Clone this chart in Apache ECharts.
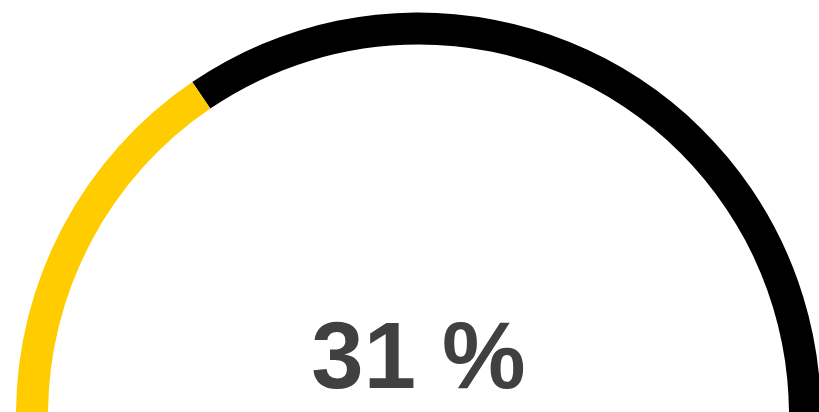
<!DOCTYPE html>
<html><head><meta charset="utf-8">
<script src="https://cdn.jsdelivr.net/npm/echarts@6/dist/echarts.min.js"></script>
<style>html,body{margin:0;padding:0;background:#fff;}#c{width:819px;height:412px;}</style>
</head><body><div id="c"></div>
<script>
var gaugeValue = [31];
var bandStops = [0.31, 1];
var bandColors = ['#FFCC00', '#000000'];
var chart = echarts.init(document.getElementById('c'), null, {renderer: 'canvas'});
chart.setOption({
  animation: false,
  series: [{
    type: 'gauge',
    center: [418.5, 415],
    radius: 402.5,
    startAngle: 180,
    endAngle: 0,
    min: 0,
    max: 100,
    axisLine: {lineStyle: {width: 32, color: bandStops.map(function(s, i){return [s, bandColors[i]];})}},
    pointer: {show: false},
    axisTick: {show: false},
    splitLine: {show: false},
    axisLabel: {show: false},
    title: {show: false},
    detail: {
      formatter: '{value} %',
      fontSize: 94,
      fontWeight: 'bold',
      fontFamily: 'Liberation Sans',
      color: '#404040',
      offsetCenter: [0, -53]
    },
    data: [{value: gaugeValue[0]}]
  }]
});
</script></body></html>
